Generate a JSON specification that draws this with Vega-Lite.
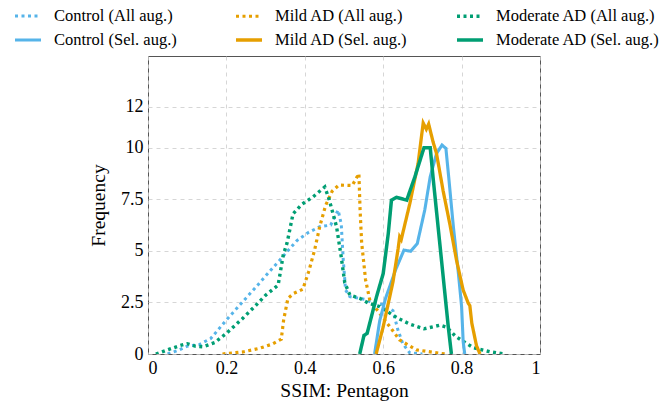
{
  "$schema": "https://vega.github.io/schema/vega-lite/v6.json",
  "width": 392,
  "height": 298,
  "autosize": {"type": "none"},
  "padding": {"left": 148, "top": 56, "right": 127, "bottom": 49},
  "background": "white",
  "config": {
    "view": {"stroke": "#555555", "strokeWidth": 1},
    "font": "Liberation Serif",
    "axis": {
      "labelFont": "Liberation Serif",
      "titleFont": "Liberation Serif",
      "labelFontSize": 18,
      "titleFontSize": 19.5,
      "titleFontWeight": "normal",
      "labelColor": "#000000",
      "titleColor": "#000000",
      "domain": false,
      "ticks": false,
      "grid": true,
      "gridColor": "#cccccc",
      "gridDash": [4, 4],
      "gridWidth": 0.8,
      "labelPadding": 5
    },
    "legend": {
      "orient": "none",
      "legendX": -135,
      "legendY": -55,
      "columns": 3,
      "gridAlign": "all",
      "columnPadding": 11,
      "rowPadding": -3,
      "symbolType": "stroke",
      "symbolSize": 676,
      "symbolStrokeWidth": 3,
      "labelFont": "Liberation Serif",
      "labelFontSize": 16.5,
      "labelColor": "#000000",
      "labelOffset": 11,
      "labelLimit": 300,
      "padding": 0
    }
  },
  "data": {
    "values": [
      {"s": "Control (All aug.)", "x": 0.05, "y": 0},
      {"s": "Control (All aug.)", "x": 0.08, "y": 0.2},
      {"s": "Control (All aug.)", "x": 0.1, "y": 0.38},
      {"s": "Control (All aug.)", "x": 0.13, "y": 0.45},
      {"s": "Control (All aug.)", "x": 0.16, "y": 0.75},
      {"s": "Control (All aug.)", "x": 0.2, "y": 1.65},
      {"s": "Control (All aug.)", "x": 0.24, "y": 2.5},
      {"s": "Control (All aug.)", "x": 0.276, "y": 3.26},
      {"s": "Control (All aug.)", "x": 0.31, "y": 4.0},
      {"s": "Control (All aug.)", "x": 0.336, "y": 4.55},
      {"s": "Control (All aug.)", "x": 0.362, "y": 5.12},
      {"s": "Control (All aug.)", "x": 0.38, "y": 5.5},
      {"s": "Control (All aug.)", "x": 0.41, "y": 5.9},
      {"s": "Control (All aug.)", "x": 0.438, "y": 6.17},
      {"s": "Control (All aug.)", "x": 0.466, "y": 6.25},
      {"s": "Control (All aug.)", "x": 0.485, "y": 6.98},
      {"s": "Control (All aug.)", "x": 0.493, "y": 6.3},
      {"s": "Control (All aug.)", "x": 0.498, "y": 4.6},
      {"s": "Control (All aug.)", "x": 0.504, "y": 3.1},
      {"s": "Control (All aug.)", "x": 0.515, "y": 2.78},
      {"s": "Control (All aug.)", "x": 0.553, "y": 2.65},
      {"s": "Control (All aug.)", "x": 0.575, "y": 2.47},
      {"s": "Control (All aug.)", "x": 0.6, "y": 2.4},
      {"s": "Control (All aug.)", "x": 0.625, "y": 2.1},
      {"s": "Control (All aug.)", "x": 0.637, "y": 1.2},
      {"s": "Control (All aug.)", "x": 0.65, "y": 0.5},
      {"s": "Control (All aug.)", "x": 0.668, "y": 0.05},
      {"s": "Control (All aug.)", "x": 0.7, "y": 0},

      {"s": "Mild AD (All aug.)", "x": 0.19, "y": 0},
      {"s": "Mild AD (All aug.)", "x": 0.242, "y": 0.1},
      {"s": "Mild AD (All aug.)", "x": 0.285, "y": 0.28},
      {"s": "Mild AD (All aug.)", "x": 0.317, "y": 0.48},
      {"s": "Mild AD (All aug.)", "x": 0.34, "y": 0.72},
      {"s": "Mild AD (All aug.)", "x": 0.346, "y": 1.65},
      {"s": "Mild AD (All aug.)", "x": 0.357, "y": 2.7},
      {"s": "Mild AD (All aug.)", "x": 0.372, "y": 2.94},
      {"s": "Mild AD (All aug.)", "x": 0.395, "y": 3.14},
      {"s": "Mild AD (All aug.)", "x": 0.41, "y": 4.0},
      {"s": "Mild AD (All aug.)", "x": 0.425, "y": 5.04},
      {"s": "Mild AD (All aug.)", "x": 0.438, "y": 6.17},
      {"s": "Mild AD (All aug.)", "x": 0.453, "y": 7.2},
      {"s": "Mild AD (All aug.)", "x": 0.47, "y": 7.9},
      {"s": "Mild AD (All aug.)", "x": 0.487, "y": 8.19},
      {"s": "Mild AD (All aug.)", "x": 0.521, "y": 8.17},
      {"s": "Mild AD (All aug.)", "x": 0.538, "y": 8.75},
      {"s": "Mild AD (All aug.)", "x": 0.541, "y": 7.0},
      {"s": "Mild AD (All aug.)", "x": 0.545, "y": 5.4},
      {"s": "Mild AD (All aug.)", "x": 0.555, "y": 3.6},
      {"s": "Mild AD (All aug.)", "x": 0.566, "y": 2.6},
      {"s": "Mild AD (All aug.)", "x": 0.591, "y": 1.97},
      {"s": "Mild AD (All aug.)", "x": 0.617, "y": 1.32},
      {"s": "Mild AD (All aug.)", "x": 0.642, "y": 0.68},
      {"s": "Mild AD (All aug.)", "x": 0.685, "y": 0.2},
      {"s": "Mild AD (All aug.)", "x": 0.745, "y": 0.03},
      {"s": "Mild AD (All aug.)", "x": 0.76, "y": 0},

      {"s": "Moderate AD (All aug.)", "x": 0.02, "y": 0},
      {"s": "Moderate AD (All aug.)", "x": 0.05, "y": 0.2},
      {"s": "Moderate AD (All aug.)", "x": 0.08, "y": 0.4},
      {"s": "Moderate AD (All aug.)", "x": 0.1, "y": 0.5},
      {"s": "Moderate AD (All aug.)", "x": 0.12, "y": 0.38},
      {"s": "Moderate AD (All aug.)", "x": 0.14, "y": 0.35},
      {"s": "Moderate AD (All aug.)", "x": 0.17, "y": 0.55},
      {"s": "Moderate AD (All aug.)", "x": 0.2, "y": 1.0},
      {"s": "Moderate AD (All aug.)", "x": 0.24, "y": 1.7},
      {"s": "Moderate AD (All aug.)", "x": 0.272, "y": 2.3},
      {"s": "Moderate AD (All aug.)", "x": 0.3, "y": 2.85},
      {"s": "Moderate AD (All aug.)", "x": 0.332, "y": 3.34},
      {"s": "Moderate AD (All aug.)", "x": 0.345, "y": 4.8},
      {"s": "Moderate AD (All aug.)", "x": 0.355, "y": 5.4},
      {"s": "Moderate AD (All aug.)", "x": 0.37, "y": 6.8},
      {"s": "Moderate AD (All aug.)", "x": 0.392, "y": 7.25},
      {"s": "Moderate AD (All aug.)", "x": 0.421, "y": 7.62},
      {"s": "Moderate AD (All aug.)", "x": 0.451, "y": 8.1},
      {"s": "Moderate AD (All aug.)", "x": 0.462, "y": 7.5},
      {"s": "Moderate AD (All aug.)", "x": 0.481, "y": 6.17},
      {"s": "Moderate AD (All aug.)", "x": 0.493, "y": 4.7},
      {"s": "Moderate AD (All aug.)", "x": 0.502, "y": 3.45},
      {"s": "Moderate AD (All aug.)", "x": 0.515, "y": 2.86},
      {"s": "Moderate AD (All aug.)", "x": 0.54, "y": 2.7},
      {"s": "Moderate AD (All aug.)", "x": 0.563, "y": 2.46},
      {"s": "Moderate AD (All aug.)", "x": 0.591, "y": 2.3},
      {"s": "Moderate AD (All aug.)", "x": 0.636, "y": 1.75},
      {"s": "Moderate AD (All aug.)", "x": 0.668, "y": 1.45},
      {"s": "Moderate AD (All aug.)", "x": 0.704, "y": 1.22},
      {"s": "Moderate AD (All aug.)", "x": 0.745, "y": 1.4},
      {"s": "Moderate AD (All aug.)", "x": 0.762, "y": 1.3},
      {"s": "Moderate AD (All aug.)", "x": 0.785, "y": 0.85},
      {"s": "Moderate AD (All aug.)", "x": 0.83, "y": 0.3},
      {"s": "Moderate AD (All aug.)", "x": 0.872, "y": 0.11},
      {"s": "Moderate AD (All aug.)", "x": 0.91, "y": 0},

      {"s": "Control (Sel. aug.)", "x": 0.578, "y": 0},
      {"s": "Control (Sel. aug.)", "x": 0.591, "y": 1.6},
      {"s": "Control (Sel. aug.)", "x": 0.606, "y": 2.7},
      {"s": "Control (Sel. aug.)", "x": 0.632, "y": 4.1},
      {"s": "Control (Sel. aug.)", "x": 0.653, "y": 5.04},
      {"s": "Control (Sel. aug.)", "x": 0.67, "y": 4.98},
      {"s": "Control (Sel. aug.)", "x": 0.687, "y": 5.36},
      {"s": "Control (Sel. aug.)", "x": 0.706, "y": 6.98},
      {"s": "Control (Sel. aug.)", "x": 0.72, "y": 8.6},
      {"s": "Control (Sel. aug.)", "x": 0.736, "y": 9.72},
      {"s": "Control (Sel. aug.)", "x": 0.75, "y": 10.13},
      {"s": "Control (Sel. aug.)", "x": 0.76, "y": 9.97},
      {"s": "Control (Sel. aug.)", "x": 0.767, "y": 8.6},
      {"s": "Control (Sel. aug.)", "x": 0.779, "y": 6.17},
      {"s": "Control (Sel. aug.)", "x": 0.791, "y": 4.07},
      {"s": "Control (Sel. aug.)", "x": 0.8, "y": 2.3},
      {"s": "Control (Sel. aug.)", "x": 0.804, "y": 0.6},
      {"s": "Control (Sel. aug.)", "x": 0.808, "y": 0},

      {"s": "Mild AD (Sel. aug.)", "x": 0.582, "y": 0},
      {"s": "Mild AD (Sel. aug.)", "x": 0.6, "y": 1.32},
      {"s": "Mild AD (Sel. aug.)", "x": 0.625, "y": 3.5},
      {"s": "Mild AD (Sel. aug.)", "x": 0.638, "y": 5.1},
      {"s": "Mild AD (Sel. aug.)", "x": 0.642, "y": 5.68},
      {"s": "Mild AD (Sel. aug.)", "x": 0.646, "y": 5.55},
      {"s": "Mild AD (Sel. aug.)", "x": 0.668, "y": 7.3},
      {"s": "Mild AD (Sel. aug.)", "x": 0.689, "y": 9.24},
      {"s": "Mild AD (Sel. aug.)", "x": 0.702, "y": 11.2},
      {"s": "Mild AD (Sel. aug.)", "x": 0.71, "y": 10.9},
      {"s": "Mild AD (Sel. aug.)", "x": 0.716, "y": 11.15},
      {"s": "Mild AD (Sel. aug.)", "x": 0.727, "y": 10.3},
      {"s": "Mild AD (Sel. aug.)", "x": 0.736, "y": 9.72},
      {"s": "Mild AD (Sel. aug.)", "x": 0.753, "y": 7.9},
      {"s": "Mild AD (Sel. aug.)", "x": 0.77, "y": 6.3},
      {"s": "Mild AD (Sel. aug.)", "x": 0.787, "y": 4.55},
      {"s": "Mild AD (Sel. aug.)", "x": 0.804, "y": 3.1},
      {"s": "Mild AD (Sel. aug.)", "x": 0.817, "y": 2.46},
      {"s": "Mild AD (Sel. aug.)", "x": 0.821, "y": 2.35},
      {"s": "Mild AD (Sel. aug.)", "x": 0.826, "y": 1.5},
      {"s": "Mild AD (Sel. aug.)", "x": 0.838, "y": 0.4},
      {"s": "Mild AD (Sel. aug.)", "x": 0.847, "y": 0},

      {"s": "Moderate AD (Sel. aug.)", "x": 0.54, "y": 0},
      {"s": "Moderate AD (Sel. aug.)", "x": 0.551, "y": 0.9},
      {"s": "Moderate AD (Sel. aug.)", "x": 0.559, "y": 1.0},
      {"s": "Moderate AD (Sel. aug.)", "x": 0.583, "y": 2.78},
      {"s": "Moderate AD (Sel. aug.)", "x": 0.6, "y": 3.9},
      {"s": "Moderate AD (Sel. aug.)", "x": 0.613, "y": 5.85},
      {"s": "Moderate AD (Sel. aug.)", "x": 0.621, "y": 7.46},
      {"s": "Moderate AD (Sel. aug.)", "x": 0.634, "y": 7.6},
      {"s": "Moderate AD (Sel. aug.)", "x": 0.66, "y": 7.46},
      {"s": "Moderate AD (Sel. aug.)", "x": 0.681, "y": 8.6},
      {"s": "Moderate AD (Sel. aug.)", "x": 0.704, "y": 10.0},
      {"s": "Moderate AD (Sel. aug.)", "x": 0.72, "y": 10.0},
      {"s": "Moderate AD (Sel. aug.)", "x": 0.727, "y": 8.6},
      {"s": "Moderate AD (Sel. aug.)", "x": 0.74, "y": 6.17},
      {"s": "Moderate AD (Sel. aug.)", "x": 0.753, "y": 3.75},
      {"s": "Moderate AD (Sel. aug.)", "x": 0.766, "y": 1.32},
      {"s": "Moderate AD (Sel. aug.)", "x": 0.774, "y": 0}
    ]
  },
  "mark": {"type": "line", "clip": true, "strokeCap": "butt"},
  "encoding": {
    "x": {
      "field": "x",
      "type": "quantitative",
      "scale": {"domain": [0, 1], "nice": false},
      "axis": {"title": "SSIM: Pentagon", "values": [0, 0.2, 0.4, 0.6, 0.8, 1], "format": "~g", "titlePadding": 4}
    },
    "y": {
      "field": "y",
      "type": "quantitative",
      "scale": {"domain": [0, 14.45], "nice": false, "zero": true},
      "axis": {"title": "Frequency", "values": [0, 2.5, 5, 7.5, 10, 12], "format": "~g", "titlePadding": 12}
    },
    "color": {
      "field": "s",
      "type": "nominal",
      "sort": null,
      "scale": {
        "domain": ["Control (All aug.)", "Control (Sel. aug.)", "Mild AD (All aug.)", "Mild AD (Sel. aug.)", "Moderate AD (All aug.)", "Moderate AD (Sel. aug.)"],
        "range": ["#56B4E9", "#56B4E9", "#E69F00", "#E69F00", "#009E73", "#009E73"]
      },
      "legend": {"title": null}
    },
    "strokeDash": {
      "field": "s",
      "type": "nominal",
      "sort": null,
      "scale": {
        "domain": ["Control (All aug.)", "Control (Sel. aug.)", "Mild AD (All aug.)", "Mild AD (Sel. aug.)", "Moderate AD (All aug.)", "Moderate AD (Sel. aug.)"],
        "range": [[3, 3.5], [1, 0], [3, 3.5], [1, 0], [3, 3.5], [1, 0]]
      },
      "legend": {"title": null}
    },
    "strokeWidth": {
      "field": "s",
      "type": "nominal",
      "scale": {
        "domain": ["Control (All aug.)", "Control (Sel. aug.)", "Mild AD (All aug.)", "Mild AD (Sel. aug.)", "Moderate AD (All aug.)", "Moderate AD (Sel. aug.)"],
        "range": [3, 3.5, 3, 3.5, 3, 3.5]
      },
      "legend": null
    }
  }
}
